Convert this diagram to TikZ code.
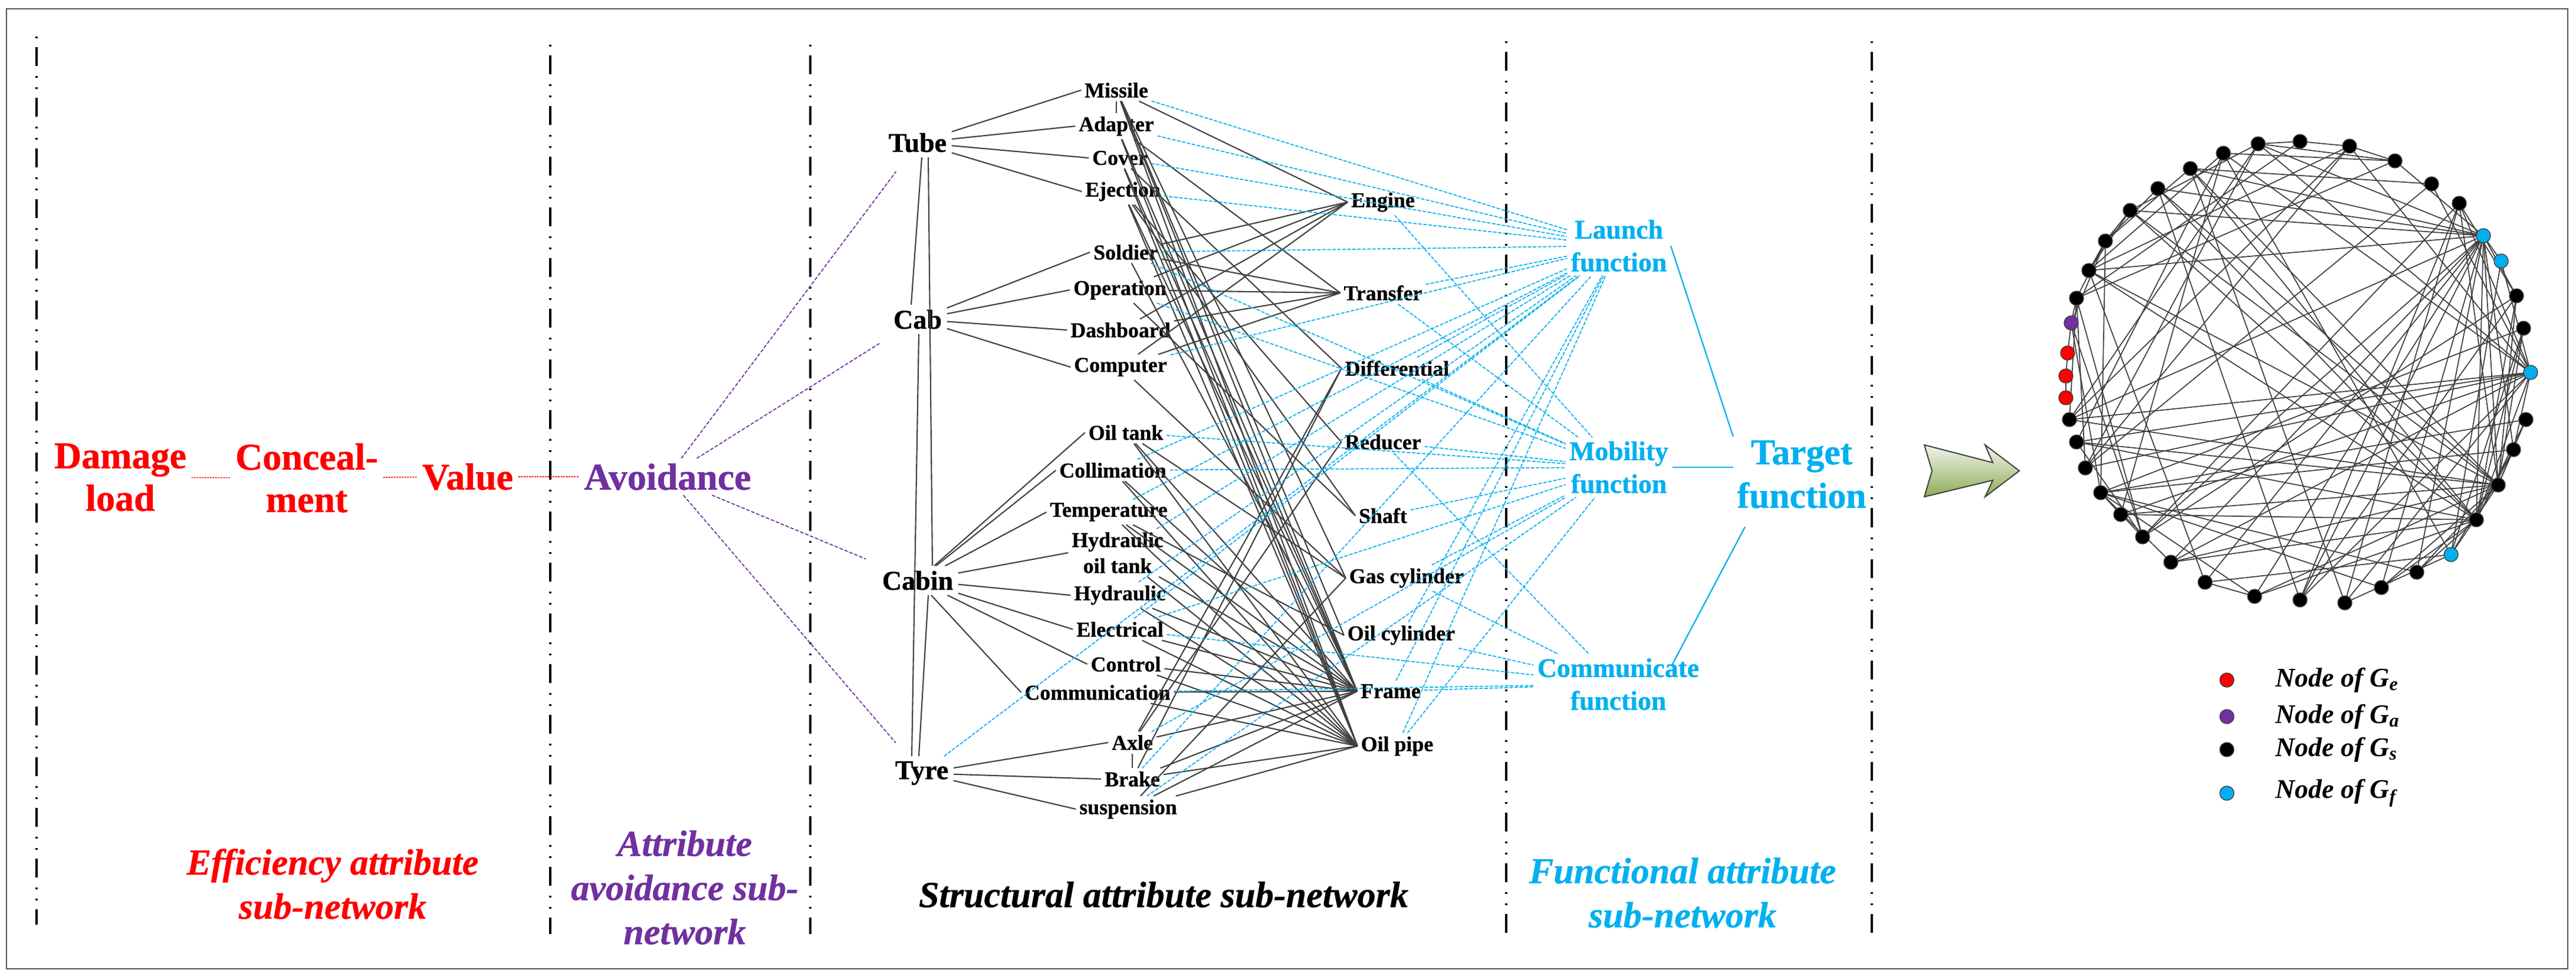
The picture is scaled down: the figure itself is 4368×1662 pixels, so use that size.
\documentclass[tikz,border=0pt]{standalone}
\usepackage{fontspec}
\setmainfont{Liberation Serif}
\definecolor{cy}{HTML}{00B0F0}
\definecolor{pu}{HTML}{7030A0}
\definecolor{rd}{HTML}{FF0000}
\definecolor{dk}{HTML}{404040}
\definecolor{atop}{HTML}{F2F3EE}
\definecolor{abot}{HTML}{8DAD55}
\tikzset{
  sub/.style={font=\fontsize{10.2}{12.5}\selectfont\bfseries\addfontfeatures{FakeBold=0.6}, inner sep=1.5pt, align=center},
  major/.style={font=\fontsize{13.1}{15}\selectfont\bfseries\addfontfeatures{FakeBold=0.8}, inner sep=0.08cm},
  big/.style={font=\fontsize{18.2}{20.5}\selectfont\bfseries\addfontfeatures{FakeBold=0.8}, align=center, inner sep=0.08cm},
  func/.style={font=\fontsize{13}{15.8}\selectfont\bfseries\addfontfeatures{FakeBold=0.8}, text=cy, align=center, inner sep=0.06cm},
  tgt/.style={font=\fontsize{17.5}{21}\selectfont\bfseries\addfontfeatures{FakeBold=0.8}, text=cy, align=center, inner sep=0.06cm},
  lab/.style={font=\fontsize{17.7}{21.3}\selectfont\bfseries\itshape\addfontfeatures{FakeBold=0.6}, align=center},
  leg/.style={font=\fontsize{13}{15}\selectfont\bfseries\itshape, anchor=west, inner sep=0pt},
  sline/.style={draw=dk, line width=0.6pt},
  fline/.style={draw=cy, line width=0.5pt, dash pattern=on 0.06cm off 0.025cm},
  pline/.style={draw=pu, line width=0.5pt, dash pattern=on 0.06cm off 0.03cm, shorten >=0.3cm},
  rline/.style={draw=rd, line width=0.45pt, dash pattern=on 0.03cm off 0.015cm},
  tline/.style={draw=cy, line width=0.65pt},
  divline/.style={line width=0.04cm, dash pattern=on 0.03cm off 0.15cm on 0.32cm off 0.17cm on 0.03cm off 0.16cm},
  gedge/.style={draw=dk, line width=0.5pt},
  gdot/.style={circle, draw=dk, line width=0.4pt, minimum size=0.24cm, inner sep=0pt},
}
\begin{document}
\begin{tikzpicture}[x=0.01cm,y=-0.01cm]
\useasboundingbox (0,0) rectangle (4368,1662);
\draw[draw=dk!90, line width=0.5pt] (11,15) rectangle (4354,1644);

% divider lines
\draw[divline] (62,62) -- (62,1569);
\draw[divline] (933,76) -- (933,1585);
\draw[divline] (1374,76) -- (1374,1585);
\draw[divline] (2554,70) -- (2554,1585);
\draw[divline] (3174,70) -- (3174,1585);

% efficiency / avoidance nodes
\node[big, text=rd] (damage) at (204,810) {Damage\\load};
\node[big, text=rd] (conceal) at (520,811) {Conceal-\\ment};
\node[big, text=rd] (value) at (793,809) {Value};
\node[big, text=pu] (avoid) at (1132,809) {Avoidance};

% major structural nodes
\node[major] (tube) at (1556,242) {Tube};
\node[major] (cab) at (1556,542) {Cab};
\node[major] (cabin) at (1556,985) {Cabin};
\node[major] (tyre) at (1563,1312) {Tyre};

% sub components
\node[sub] (missile) at (1893,153) {Missile};
\node[sub] (adapter) at (1893,214) {Adapter};
\node[sub] (cover) at (1899,268) {Cover};
\node[sub] (ejection) at (1904,325) {Ejection};
\node[sub] (soldier) at (1909,428) {Soldier};
\node[sub] (operation) at (1899,492) {Operation};
\node[sub] (dashboard) at (1900,560) {Dashboard};
\node[sub] (computer) at (1900,623) {Computer};
\node[sub] (oiltank) at (1909,734) {Oil tank};
\node[sub] (collimation) at (1887,798) {Collimation};
\node[sub] (temperature) at (1880,869) {Temperature};
\node[sub] (hydoil) at (1895,938) {Hydraulic\\oil tank};
\node[sub] (hydraulic) at (1899,1010) {Hydraulic};
\node[sub] (electrical) at (1899,1068) {Electrical};
\node[sub] (control) at (1909,1127) {Control};
\node[sub] (communication) at (1861,1175) {Communication};
\node[sub] (axle) at (1920,1260) {Axle};
\node[sub] (brake) at (1920,1322) {Brake};
\node[sub] (suspension) at (1913,1373) {suspension};

% middle components
\node[sub] (engine) at (2345,343) {Engine};
\node[sub] (transfer) at (2345,497) {Transfer};
\node[sub] (differential) at (2369,625) {Differential};
\node[sub] (reducer) at (2345,750) {Reducer};
\node[sub] (shaft) at (2345,875) {Shaft};
\node[sub] (gascyl) at (2385,981) {Gas cylinder};
\node[sub] (oilcyl) at (2376,1078) {Oil cylinder};
\node[sub] (frame) at (2358,1173) {Frame};
\node[sub] (oilpipe) at (2369,1266) {Oil pipe};

% functions
\node[func] (launch) at (2745,417) {Launch\\function};
\node[func] (mobility) at (2745,793) {Mobility\\function};
\node[func] (commf) at (2744,1161) {Communicate\\function};
\node[tgt] (target) at (3055,805) {Target\\function};

% bottom labels
\node[lab, text=rd] (labeff) at (564,1500) {Efficiency attribute\\sub-network};
\node[lab, text=pu] (labav) at (1161,1506) {Attribute\\avoidance sub-\\network};
\node[lab, text=black] (labst) at (1973,1518) {Structural attribute sub-network};
\node[lab, text=cy] (labfu) at (2853,1515) {Functional attribute\\sub-network};

% red dotted links
\draw[rline] (damage) -- (conceal);
\draw[rline] (conceal) -- (value);
\draw[rline] (value) -- (avoid);
% purple dashed links
\foreach \b in {tube,cab,cabin,tyre} \draw[pline] (avoid) -- (\b);

% structural major links
\draw[sline] ([xshift=0.07cm]tube.south) -- ([xshift=-0.11cm]cab.north);
\draw[sline] ([xshift=0.18cm]tube.south) -- ([xshift=0.25cm]cabin.north);
\draw[sline] ([xshift=0.02cm]cab.south) -- ([xshift=-0.17cm]tyre.north);
\draw[sline] ([xshift=0.18cm]cabin.south) -- ([xshift=-0.05cm]tyre.north);
\draw[sline] (missile) -- (adapter);
\draw[sline] (axle) -- (brake);
\foreach \a/\b in {tube/missile,tube/adapter,tube/cover,tube/ejection,
  cab/soldier,cab/operation,cab/dashboard,cab/computer,
  cabin/oiltank,cabin/collimation,cabin/temperature,cabin/hydoil,cabin/hydraulic,cabin/electrical,cabin/control,cabin/communication,
  tyre/axle,tyre/brake,tyre/suspension}
  \draw[sline] (\a) -- (\b.west);
% sub to middle links
\foreach \a/\b in {missile/engine,missile/frame,missile/oilpipe,missile/gascyl,missile/oilcyl,
  adapter/transfer,adapter/frame,adapter/oilpipe,
  cover/differential,cover/frame,cover/oilpipe,
  ejection/reducer,ejection/shaft,ejection/frame,ejection/oilpipe,
  soldier/engine,soldier/transfer,soldier/frame,
  operation/engine,operation/transfer,operation/shaft,
  dashboard/engine,dashboard/transfer,
  computer/engine,computer/transfer,computer/gascyl,
  oiltank/frame,oiltank/oilpipe,oiltank/gascyl,
  collimation/frame,collimation/oilpipe,
  temperature/frame,temperature/oilpipe,temperature/oilcyl,
  hydoil/frame,hydoil/oilpipe,
  hydraulic/frame,hydraulic/oilpipe,
  electrical/frame,electrical/oilpipe,
  control/frame,control/oilpipe,
  communication/frame,communication/oilpipe,
  axle/differential,axle/reducer,axle/frame,
  brake/differential,brake/frame,brake/oilpipe,
  suspension/frame,suspension/oilpipe,suspension/gascyl}
  \draw[sline] (\a) -- (\b.west);
% functional links
\foreach \a/\b in {missile/launch,adapter/launch,cover/launch,ejection/launch,
  soldier/launch,soldier/mobility,operation/mobility,computer/launch,
  oiltank/mobility,collimation/launch,collimation/mobility,temperature/launch,
  hydoil/launch,hydraulic/launch,electrical/launch,electrical/mobility,electrical/commf,
  communication/commf,axle/mobility,brake/launch,suspension/mobility,tyre/launch,
  engine/mobility,transfer/launch,transfer/mobility,differential/launch,differential/mobility,
  reducer/mobility,reducer/commf,shaft/mobility,gascyl/mobility,gascyl/commf,
  oilcyl/launch,oilcyl/commf,frame/launch,frame/commf,oilpipe/launch,oilpipe/mobility}
  \draw[fline] (\a) -- (\b);
% target links
\draw[tline] (launch.east) -- (target.north west);
\draw[tline] (mobility.east) -- (mobility.east -| target.west);
\draw[tline] ([xshift=0.9cm,yshift=-0.2cm]commf.north) -- ([xshift=0.2cm,yshift=-0.25cm]target.south west);

% arrow
\draw[top color=atop, bottom color=abot, draw=dk, line width=0.02cm, line join=miter]
  (3263,755) -- (3379,785) -- (3366,755) -- (3424,799) -- (3366,843) -- (3379,815) -- (3263,843) -- (3276,799) -- cycle;

% circle graph coordinates
\coordinate (gtransfer) at (3829,244);
\coordinate (gdashboard) at (3900,240);
\coordinate (gengine) at (3984,248);
\coordinate (gcomputer) at (4061,273);
\coordinate (gshaft) at (4123,312);
\coordinate (gaxle) at (4170,345);
\coordinate (glaunch) at (4211,400);
\coordinate (gtarget) at (4241,443);
\coordinate (gbrake) at (4267,502);
\coordinate (gcommunication) at (4279,557);
\coordinate (gmobility) at (4291,632);
\coordinate (gcontrol) at (4283,712);
\coordinate (gelectrical) at (4262,763);
\coordinate (gframe) at (4236,823);
\coordinate (goilpipe) at (4199,882);
\coordinate (gcommf) at (4156,941);
\coordinate (ghydraulic) at (4098,971);
\coordinate (ghydoil) at (4038,997);
\coordinate (greducer) at (3976,1023);
\coordinate (gdifferential) at (3900,1018);
\coordinate (gtemperature) at (3823,1012);
\coordinate (goilcyl) at (3739,988);
\coordinate (gcollimation) at (3681,954);
\coordinate (gtyre) at (3633,911);
\coordinate (goiltank) at (3596,873);
\coordinate (gcabin) at (3562,836);
\coordinate (goperation) at (3536,794);
\coordinate (gsuspension) at (3521,750);
\coordinate (gsoldier) at (3509,712);
\coordinate (gdamage) at (3503,675);
\coordinate (gconceal) at (3503,638);
\coordinate (gvalue) at (3506,599);
\coordinate (gavoid) at (3512,548);
\coordinate (gcab) at (3521,506);
\coordinate (gmissile) at (3542,459);
\coordinate (gtube) at (3570,409);
\coordinate (gadapter) at (3612,357);
\coordinate (gcover) at (3659,320);
\coordinate (gejection) at (3714,286);
\coordinate (ggascyl) at (3770,260);

% circle graph edges
\foreach \a/\b in {damage/conceal,conceal/value,value/avoid,
  avoid/tube,avoid/cab,avoid/cabin,avoid/tyre,
  tube/cab,tube/cabin,cab/tyre,cabin/tyre,missile/adapter,axle/brake,
  tube/missile,tube/adapter,tube/cover,tube/ejection,
  cab/soldier,cab/operation,cab/dashboard,cab/computer,
  cabin/oiltank,cabin/collimation,cabin/temperature,cabin/hydoil,cabin/hydraulic,cabin/electrical,cabin/control,cabin/communication,
  tyre/axle,tyre/brake,tyre/suspension,
  missile/engine,missile/frame,missile/oilpipe,missile/gascyl,missile/oilcyl,
  adapter/transfer,adapter/frame,adapter/oilpipe,
  cover/differential,cover/frame,cover/oilpipe,
  ejection/reducer,ejection/shaft,ejection/frame,ejection/oilpipe,
  soldier/engine,soldier/transfer,soldier/frame,
  operation/engine,operation/transfer,operation/shaft,
  dashboard/engine,dashboard/transfer,
  computer/engine,computer/transfer,computer/gascyl,
  oiltank/frame,oiltank/oilpipe,oiltank/gascyl,
  collimation/frame,collimation/oilpipe,
  temperature/frame,temperature/oilpipe,temperature/oilcyl,
  hydoil/frame,hydoil/oilpipe,
  hydraulic/frame,hydraulic/oilpipe,
  electrical/frame,electrical/oilpipe,
  control/frame,control/oilpipe,
  communication/frame,communication/oilpipe,
  axle/differential,axle/reducer,axle/frame,
  brake/differential,brake/frame,brake/oilpipe,
  suspension/frame,suspension/oilpipe,suspension/gascyl,
  missile/launch,adapter/launch,cover/launch,ejection/launch,
  soldier/launch,soldier/mobility,operation/mobility,computer/launch,
  oiltank/mobility,collimation/launch,collimation/mobility,temperature/launch,
  hydoil/launch,hydraulic/launch,electrical/launch,electrical/mobility,electrical/commf,
  communication/commf,axle/mobility,brake/launch,suspension/mobility,tyre/launch,
  engine/mobility,transfer/launch,transfer/mobility,differential/launch,differential/mobility,
  reducer/mobility,reducer/commf,shaft/mobility,gascyl/mobility,gascyl/commf,
  oilcyl/launch,oilcyl/commf,frame/launch,frame/commf,oilpipe/launch,oilpipe/mobility,
  launch/target,mobility/target,commf/target}
  \draw[gedge] (g\a) -- (g\b);

% circle graph dots
\foreach \n in {transfer,dashboard,engine,computer,shaft,axle,brake,communication,control,electrical,frame,oilpipe,hydraulic,hydoil,reducer,differential,temperature,oilcyl,collimation,tyre,oiltank,cabin,operation,suspension,soldier,cab,missile,tube,adapter,cover,ejection,gascyl}
  \node[gdot, fill=black] (d\n) at (g\n) {};
\foreach \n in {damage,conceal,value}
  \node[gdot, fill=rd] (d\n) at (g\n) {};
\node[gdot, fill=pu] (davoid) at (gavoid) {};
\foreach \n in {launch,target,mobility,commf}
  \node[gdot, fill=cy] (d\n) at (g\n) {};

% legend
\node[gdot, fill=rd] (lge) at (3776,1154) {};
\node[gdot, fill=pu] (lga) at (3776,1216) {};
\node[gdot, fill=black] (lgs) at (3776,1272) {};
\node[gdot, fill=cy] (lgf) at (3776,1346) {};
\node[leg] (tge) at (3858,1154) {Node of G\textsubscript{e}};
\node[leg] (tga) at (3858,1216) {Node of G\textsubscript{a}};
\node[leg] (tgs) at (3858,1272) {Node of G\textsubscript{s}};
\node[leg] (tgf) at (3858,1346) {Node of G\textsubscript{f}};
\end{tikzpicture}
\end{document}
